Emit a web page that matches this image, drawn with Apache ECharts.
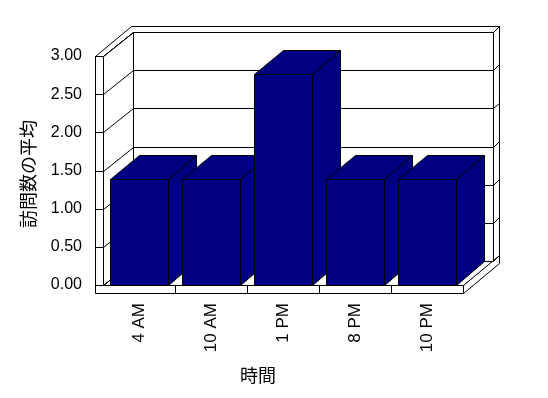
<!DOCTYPE html>
<html><head><meta charset="utf-8">
<script src="https://cdn.jsdelivr.net/npm/echarts@6/dist/echarts.min.js"></script>
<style>html,body{margin:0;padding:0;background:#fff}#c{width:548px;height:398px}</style>
</head><body><div id="c"></div>
<script>
const categories = ['4 AM', '10 AM', '1 PM', '8 PM', '10 PM'];
const values = [1.385, 1.385, 2.77, 1.385, 1.385];
const yTicks = [0, 0.5, 1, 1.5, 2, 2.5, 3];
const xTitle = '時間';
const yTitle = '訪問数の平均';

// 3D geometry (pixels)
const DX = 29.5, DY = -24;    // depth of plot box
const BX = 6, BY = -5.7;      // back wall thickness
const W = 7.6;                // left wall thickness
const FT = 7.5;               // floor thickness
const BDX = 28.5, BDY = -24;  // bar depth
const BAR = '#000080';

const chart = echarts.init(document.getElementById('c'), null, {renderer: 'canvas'});

function snap(p) { return [Math.round(p[0]) + 0.5, Math.round(p[1]) + 0.5]; }
function poly(pts, fill) {
  return {type: 'polygon', shape: {points: pts.map(snap)}, style: {fill: fill, stroke: '#000', lineWidth: 1}};
}
function seg(a, b) {
  a = snap(a); b = snap(b);
  return {type: 'line', shape: {x1: a[0], y1: a[1], x2: b[0], y2: b[1]}, style: {stroke: '#000', lineWidth: 1, fill: null}};
}

function renderFrame(params, api) {
  const n = categories.length;
  const bw = api.size([1, 0])[0];
  const xL = api.coord([0, 0])[0] - bw / 2;
  const xR = xL + bw * n;
  const y0 = api.coord([0, yTicks[0]])[1];
  const yT = api.coord([0, yTicks[yTicks.length - 1]])[1];
  const ch = [];
  ch.push(poly([[xL - W, yT], [xL, yT], [xL + DX, yT + DY], [xR + DX, yT + DY],
    [xR + DX + BX, yT + DY + BY], [xL - W + DX + BX, yT + DY + BY]], '#fff'));
  ch.push(poly([[xL + DX, yT + DY], [xR + DX, yT + DY], [xR + DX, y0 + DY], [xL + DX, y0 + DY]], '#fff'));
  ch.push(poly([[xR + DX, yT + DY], [xR + DX + BX, yT + DY + BY], [xR + DX + BX, y0 + DY + BY], [xR + DX, y0 + DY]], '#fff'));
  ch.push(poly([[xL, yT], [xL + DX, yT + DY], [xL + DX, y0 + DY], [xL, y0]], '#fff'));
  ch.push(poly([[xL, y0], [xR, y0], [xR + DX, y0 + DY], [xL + DX, y0 + DY]], '#fff'));
  ch.push(poly([[xR, y0], [xR + DX + BX, y0 + DY + BY], [xR + DX + BX, y0 + FT + DY + BY], [xR, y0 + FT]], '#fff'));
  ch.push(poly([[xL - W, yT], [xL, yT], [xL, y0], [xR, y0], [xR, y0 + FT], [xL - W, y0 + FT]], '#fff'));
  yTicks.forEach(function (v) {
    const y = api.coord([0, v])[1];
    ch.push(seg([xL + DX, y + DY], [xR + DX, y + DY]));
    ch.push(seg([xL, y], [xL + DX, y + DY]));
    ch.push(seg([xR + DX, y + DY], [xR + DX + BX, y + DY + BY]));
    ch.push(seg([xL - W, y], [xL, y]));
  });
  for (let i = 1; i < n; i++) {
    const x = xL + i * bw;
    ch.push(seg([x, y0], [x, y0 + FT]));
  }
  return {type: 'group', children: ch};
}

function renderBar(params, api) {
  const idx = api.value(0);
  const c = api.coord([idx, api.value(1)]);
  const c0 = api.coord([idx, 0]);
  const bw = api.size([1, 0])[0] * 0.8;
  const x1 = c[0] - bw / 2, x2 = c[0] + bw / 2, yt = c[1], yb = c0[1];
  return {type: 'group', children: [
    poly([[x2, yt], [x2 + BDX, yt + BDY], [x2 + BDX, yb + BDY], [x2, yb]], BAR),
    poly([[x1, yt], [x1 + BDX, yt + BDY], [x2 + BDX, yt + BDY], [x2, yt]], BAR),
    poly([[x1, yt], [x2, yt], [x2, yb], [x1, yb]], BAR)
  ]};
}

const option = {
  backgroundColor: '#fff',
  animation: false,
  grid: {left: 103, right: 85, top: 56, bottom: 113},
  xAxis: {
    type: 'category',
    data: categories,
    axisLine: {show: false}, axisTick: {show: false}, splitLine: {show: false},
    axisLabel: {rotate: 90, margin: 18, fontSize: 17, color: '#000', fontFamily: 'Liberation Sans'}
  },
  yAxis: {
    type: 'value', min: 0, max: 3, interval: 0.5,
    axisLine: {show: false}, axisTick: {show: false}, splitLine: {show: false},
    axisLabel: {margin: 21, fontSize: 16, color: '#000', fontFamily: 'Liberation Sans',
      formatter: function (v) { return v.toFixed(2); }}
  },
  graphic: [
    {type: 'text', x: 258, y: 375, style: {text: xTitle, fill: '#000', font: '18px "Noto Sans CJK JP"', align: 'center', verticalAlign: 'middle'}},
    {type: 'text', x: 28, y: 174, rotation: Math.PI / 2, style: {text: yTitle, fill: '#000', font: '18px "Noto Sans CJK JP"', align: 'center', verticalAlign: 'middle'}}
  ],
  series: [
    {type: 'custom', renderItem: renderFrame, data: [[0, 0]], clip: false, z: 1, silent: true},
    {type: 'custom', renderItem: renderBar, data: values.map(function (v, i) { return [i, v]; }), clip: false, z: 2}
  ]
};
chart.setOption(option);
</script>
</body></html>
